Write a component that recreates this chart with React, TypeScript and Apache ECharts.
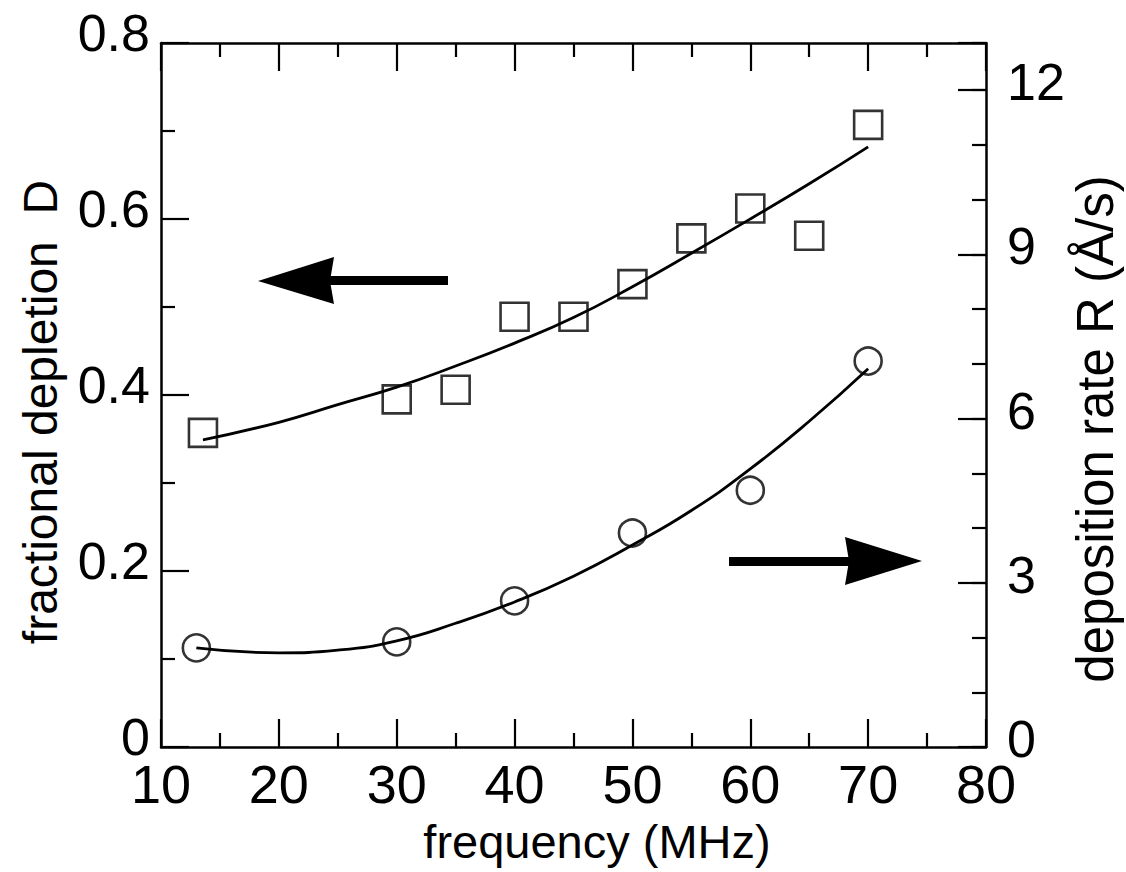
import React, { useEffect, useRef } from 'react';
import * as echarts from 'echarts';

// ---- data ----
const squareFreq = [13.56, 30, 35, 40, 45, 50, 55, 60, 65, 70];
const depletion = [0.357, 0.395, 0.406, 0.489, 0.489, 0.526, 0.578, 0.612, 0.581, 0.707];

const circleFreq = [13.0, 30, 40, 50, 60, 70];
const depositionRate = [1.81, 1.92, 2.67, 3.91, 4.69, 7.05];

const depletionFitFreq = [13.56, 20, 25, 30, 35, 40, 45, 50, 55, 60, 65, 70];
const depletionFit = [0.349, 0.369, 0.389, 0.409, 0.433, 0.459, 0.488, 0.523, 0.561, 0.600, 0.640, 0.682];

const rateFitFreq = [13.0, 20, 25, 30, 35, 40, 45, 50, 55, 60, 65, 70];
const rateFit = [1.81, 1.72, 1.77, 1.94, 2.26, 2.65, 3.12, 3.69, 4.32, 5.08, 5.95, 6.91];

const xTicks = { min: 10, max: 80, interval: 10 };
const leftTicks = { min: 0, max: 0.8, interval: 0.2 };
const rightTicks = { min: 0, max: 12.86, interval: 3 };

const xTitle = 'frequency (MHz)';
const leftTitle = 'fractional depletion  D';
const rightTitle = 'deposition rate R (Å/s)';

const FONT = '"Liberation Sans", Arial, Helvetica, sans-serif';

export default function App() {
  const ref = useRef<HTMLDivElement>(null);

  useEffect(() => {
    const chart = echarts.init(ref.current as HTMLDivElement, null, { renderer: 'svg' });

    const axisLine = { show: true, onZero: false, lineStyle: { color: '#000', width: 2.5 } };
    const majorTick = { show: true, inside: true, length: 28, lineStyle: { color: '#000', width: 2.2 } };
    const minorTick = { show: true, splitNumber: 2, length: 14, lineStyle: { color: '#000', width: 2.2 } };
    const noSplit = { show: false };

    const pair = (xs: number[], ys: number[]) => xs.map((x, i) => [x, ys[i]]);

    const option: any = {
      animation: false,
      backgroundColor: '#fff',
      grid: { left: 161, right: 140, top: 43, bottom: 125, containLabel: false },
      xAxis: [
        {
          type: 'value',
          position: 'bottom',
          ...xTicks,
          axisLine,
          axisTick: majorTick,
          minorTick,
          splitLine: noSplit,
          minorSplitLine: noSplit,
          axisLabel: {
            show: true,
            color: '#000',
            fontSize: 54,
            lineHeight: 40,
            fontFamily: FONT,
            margin: 17,
            showMinLabel: true,
            showMaxLabel: true,
            formatter: (v: number) => String(Math.round(v)),
          },
        },
        {
          type: 'value',
          position: 'top',
          ...xTicks,
          axisLine,
          axisTick: majorTick,
          minorTick,
          splitLine: noSplit,
          minorSplitLine: noSplit,
          axisLabel: { show: false },
        },
      ],
      yAxis: [
        {
          type: 'value',
          position: 'left',
          ...leftTicks,
          axisLine,
          axisTick: majorTick,
          minorTick,
          splitLine: noSplit,
          minorSplitLine: noSplit,
          axisLabel: {
            show: true,
            color: '#000',
            fontSize: 52,
            lineHeight: 20,
            verticalAlign: 'bottom',
            fontFamily: FONT,
            margin: 11,
            showMinLabel: true,
            showMaxLabel: true,
            formatter: (v: number) => (Math.abs(v) < 1e-9 ? '0' : v.toFixed(1)),
          },
        },
        {
          type: 'value',
          position: 'right',
          ...rightTicks,
          axisLine,
          axisTick: majorTick,
          splitLine: noSplit,
          axisLabel: {
            show: true,
            color: '#000',
            fontSize: 52,
            lineHeight: 16,
            verticalAlign: 'bottom',
            fontFamily: FONT,
            margin: 21,
            showMinLabel: true,
            showMaxLabel: true,
            formatter: (v: number) =>
              Math.abs(v / 3 - Math.round(v / 3)) < 1e-6 ? String(Math.round(v)) : '',
          },
        },
        {
          type: 'value',
          position: 'right',
          min: rightTicks.min,
          max: rightTicks.max,
          interval: 1,
          axisLine: { show: false },
          axisTick: { show: true, inside: true, length: 14, lineStyle: { color: '#000', width: 2.2 } },
          splitLine: noSplit,
          axisLabel: { show: false },
        },
      ],
      graphic: [
        // left-pointing arrow (refers to left axis)
        { type: 'rect', shape: { x: 330, y: 276, width: 118, height: 9 }, style: { fill: '#000' } },
        {
          type: 'polygon',
          shape: { points: [[258, 281], [334, 257], [330, 281], [334, 304]] },
          style: { fill: '#000' },
        },
        // right-pointing arrow (refers to right axis)
        { type: 'rect', shape: { x: 729, y: 557, width: 120, height: 9 }, style: { fill: '#000' } },
        {
          type: 'polygon',
          shape: { points: [[922, 561], [845, 537], [849, 561], [845, 585]] },
          style: { fill: '#000' },
        },
        {
          type: 'text',
          x: 597,
          y: 841,
          style: { text: xTitle, fontSize: 47, fontFamily: FONT, fill: '#000', align: 'center', verticalAlign: 'middle' },
        },
        {
          type: 'text',
          x: 40,
          y: 412,
          rotation: Math.PI / 2,
          style: { text: leftTitle, fontSize: 48, fontFamily: FONT, fill: '#000', align: 'center', verticalAlign: 'middle' },
        },
        {
          type: 'text',
          x: 1095,
          y: 429,
          rotation: Math.PI / 2,
          style: { text: rightTitle, fontSize: 51, fontFamily: FONT, fill: '#000', align: 'center', verticalAlign: 'middle' },
        },
      ],
      series: [
        {
          name: 'D fit',
          type: 'line',
          xAxisIndex: 0,
          yAxisIndex: 0,
          data: pair(depletionFitFreq, depletionFit),
          smooth: 0.5,
          showSymbol: false,
          lineStyle: { color: '#000', width: 2.8 },
          z: 2,
        },
        {
          name: 'D',
          type: 'scatter',
          xAxisIndex: 0,
          yAxisIndex: 0,
          data: pair(squareFreq, depletion),
          symbol: 'rect',
          symbolSize: 28,
          itemStyle: { color: 'rgba(0,0,0,0)', borderColor: '#000', borderWidth: 2.6 },
          z: 3,
        },
        {
          name: 'R fit',
          type: 'line',
          xAxisIndex: 0,
          yAxisIndex: 1,
          data: pair(rateFitFreq, rateFit),
          smooth: 0.5,
          showSymbol: false,
          lineStyle: { color: '#000', width: 2.8 },
          z: 2,
        },
        {
          name: 'R',
          type: 'scatter',
          xAxisIndex: 0,
          yAxisIndex: 1,
          data: pair(circleFreq, depositionRate),
          symbol: 'circle',
          symbolSize: 27,
          itemStyle: { color: 'rgba(0,0,0,0)', borderColor: '#000', borderWidth: 2.6 },
          z: 3,
        },
      ],
    };

    chart.setOption(option);
    return () => chart.dispose();
  }, []);

  return (
    <div
      ref={ref}
      style={{ position: 'fixed', left: 0, top: 0, width: 1126, height: 872, background: '#fff' }}
    />
  );
}
